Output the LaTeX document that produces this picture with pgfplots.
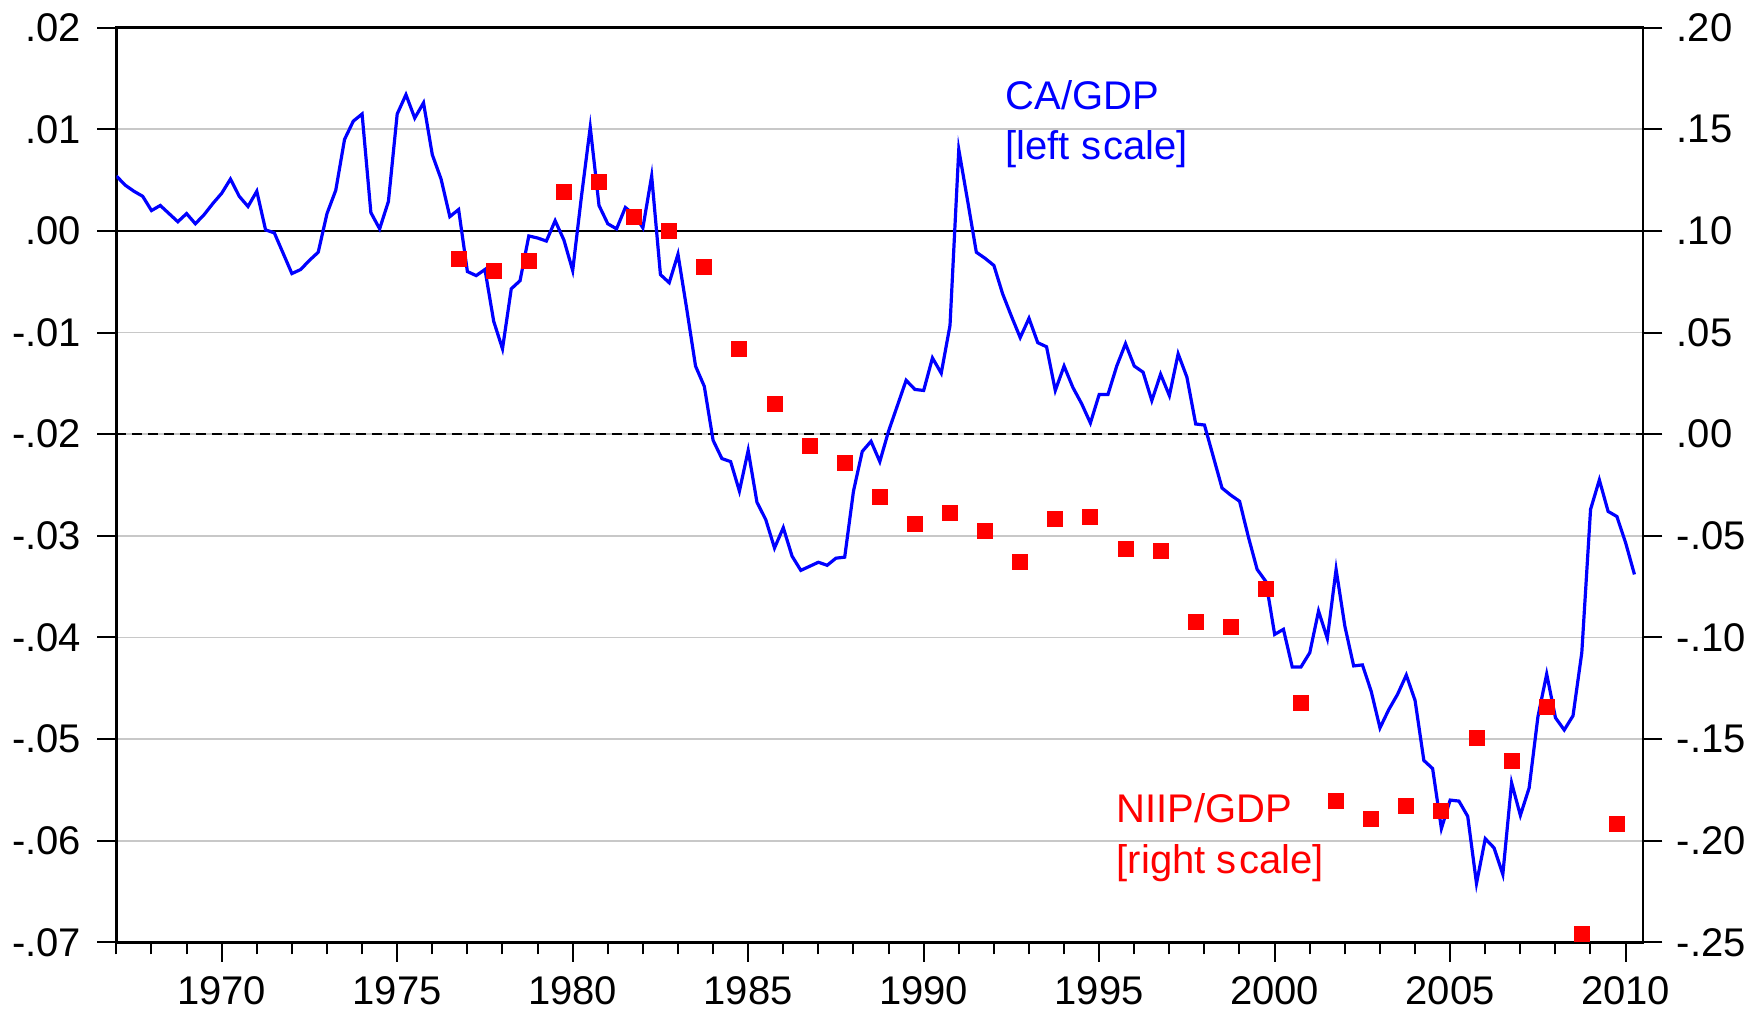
\documentclass[border=0pt]{standalone}
\usepackage{pgfplots}
\pgfplotsset{compat=1.18}
\usepackage{fontspec}
\setmainfont{Liberation Sans}
\definecolor{gridgray}{RGB}{200,200,200}
\begin{document}
\begin{tikzpicture}
\useasboundingbox (-29.1pt,-17.6pt) rectangle (411.9pt,235.6pt);
\pgfplotsset{
 base/.style={
  at={(0pt,0pt)}, anchor=south west,
  scale only axis, width=381.7pt, height=228.7pt,
  xmin=1967, xmax=2010.5,
  tick align=outside,
  major tick length=4.8pt, minor tick length=3pt,
  tick style={black, line width=0.5pt},
  every tick label/.append style={font=\fontsize{10}{12}\selectfont, inner sep=0pt},
 }
}
\begin{axis}[base,
  ymin=-0.07, ymax=0.02,
  ytick={-0.07,-0.06,-0.05,-0.04,-0.03,-0.02,-0.01,0,0.01,0.02},
  yticklabels={-.07,-.06,-.05,-.04,-.03,-.02,-.01,.00,.01,.02},
  xtick pos=lower, ytick pos=lower,
  xtick={1970,1975,1980,1985,1990,1995,2000,2005,2010},
  xticklabels={1970,1975,1980,1985,1990,1995,2000,2005,2010},
  minor xtick={1967,...,2010},
  ymajorgrids, grid style={gridgray, line width=0.4pt},
  axis line style={black, line width=0.6pt},
  yticklabel style={anchor=east, xshift=-3.85pt},
  xticklabel style={anchor=north, yshift=-3.5pt},
]
\draw[black, line width=0.5pt] (1967,0) -- (2010.5,0);
\draw[black, line width=0.5pt, dash pattern=on 2.5pt off 1.5pt] (1967,-0.02) -- (2010.5,-0.02);
\addplot[blue, line width=0.8pt, mark=none] table {
x y
1967.00 0.0054
1967.25 0.0045
1967.50 0.0039
1967.75 0.0034
1968.00 0.0020
1968.25 0.0025
1968.50 0.0017
1968.75 0.0009
1969.00 0.0017
1969.25 0.0007
1969.50 0.0016
1969.75 0.0027
1970.00 0.0037
1970.25 0.0051
1970.50 0.0034
1970.75 0.0024
1971.00 0.0039
1971.25 0.0001
1971.50 -0.0002
1971.75 -0.0022
1972.00 -0.0042
1972.25 -0.0038
1972.50 -0.0029
1972.75 -0.0021
1973.00 0.0017
1973.25 0.0040
1973.50 0.0090
1973.75 0.0108
1974.00 0.0115
1974.25 0.0018
1974.50 0.0002
1974.75 0.0029
1975.00 0.0115
1975.25 0.0134
1975.50 0.0111
1975.75 0.0126
1976.00 0.0075
1976.25 0.0051
1976.50 0.0014
1976.75 0.0021
1977.00 -0.0040
1977.25 -0.0044
1977.50 -0.0038
1977.75 -0.0089
1978.00 -0.0116
1978.25 -0.0057
1978.50 -0.0049
1978.75 -0.0005
1979.00 -0.0007
1979.25 -0.0010
1979.50 0.0010
1979.75 -0.0009
1980.00 -0.0039
1980.25 0.0034
1980.50 0.0102
1980.75 0.0025
1981.00 0.0007
1981.25 0.0002
1981.50 0.0023
1981.75 0.0016
1982.00 0.0003
1982.25 0.0054
1982.50 -0.0043
1982.75 -0.0051
1983.00 -0.0023
1983.25 -0.0077
1983.50 -0.0133
1983.75 -0.0153
1984.00 -0.0206
1984.25 -0.0224
1984.50 -0.0227
1984.75 -0.0256
1985.00 -0.0216
1985.25 -0.0267
1985.50 -0.0284
1985.75 -0.0312
1986.00 -0.0292
1986.25 -0.0320
1986.50 -0.0334
1986.75 -0.0330
1987.00 -0.0326
1987.25 -0.0329
1987.50 -0.0322
1987.75 -0.0321
1988.00 -0.0256
1988.25 -0.0217
1988.50 -0.0207
1988.75 -0.0227
1989.00 -0.0197
1989.25 -0.0172
1989.50 -0.0147
1989.75 -0.0156
1990.00 -0.0157
1990.25 -0.0125
1990.50 -0.0140
1990.75 -0.0093
1991.00 0.0080
1991.25 0.0030
1991.50 -0.0021
1991.75 -0.0027
1992.00 -0.0034
1992.25 -0.0062
1992.50 -0.0084
1992.75 -0.0105
1993.00 -0.0086
1993.25 -0.0110
1993.50 -0.0114
1993.75 -0.0157
1994.00 -0.0133
1994.25 -0.0154
1994.50 -0.0170
1994.75 -0.0189
1995.00 -0.0161
1995.25 -0.0161
1995.50 -0.0133
1995.75 -0.0111
1996.00 -0.0133
1996.25 -0.0139
1996.50 -0.0167
1996.75 -0.0141
1997.00 -0.0162
1997.25 -0.0121
1997.50 -0.0144
1997.75 -0.0190
1998.00 -0.0191
1998.25 -0.0222
1998.50 -0.0253
1998.75 -0.0260
1999.00 -0.0266
1999.25 -0.0301
1999.50 -0.0333
1999.75 -0.0345
2000.00 -0.0397
2000.25 -0.0392
2000.50 -0.0429
2000.75 -0.0429
2001.00 -0.0415
2001.25 -0.0374
2001.50 -0.0401
2001.75 -0.0333
2002.00 -0.0389
2002.25 -0.0428
2002.50 -0.0427
2002.75 -0.0453
2003.00 -0.0489
2003.25 -0.0471
2003.50 -0.0456
2003.75 -0.0437
2004.00 -0.0462
2004.25 -0.0521
2004.50 -0.0529
2004.75 -0.0588
2005.00 -0.0560
2005.25 -0.0561
2005.50 -0.0576
2005.75 -0.0642
2006.00 -0.0598
2006.25 -0.0607
2006.50 -0.0633
2006.75 -0.0543
2007.00 -0.0575
2007.25 -0.0548
2007.50 -0.0478
2007.75 -0.0436
2008.00 -0.0479
2008.25 -0.0491
2008.50 -0.0477
2008.75 -0.0415
2009.00 -0.0274
2009.25 -0.0245
2009.50 -0.0276
2009.75 -0.0281
2010.00 -0.0307
2010.25 -0.0338
};
\node[blue, anchor=base west, inner sep=0pt, font=\fontsize{10}{12}\selectfont] at (1992.31,0.0119) {CA/GDP};
\node[blue, anchor=base west, inner sep=0pt, font=\fontsize{10}{12}\selectfont] at (1992.31,0.00706) {[left s\kern0.6pt cale]};
\node[red, anchor=base west, inner sep=0pt, font=\fontsize{10}{12}\selectfont] at (1995.48,-0.0582) {NIIP/GDP};
\node[red, anchor=base west, inner sep=0pt, font=\fontsize{10}{12}\selectfont] at (1995.48,-0.0632) {[right s\kern0.6pt cale]};
\end{axis}
\begin{axis}[base,
  ymin=-0.25, ymax=0.20,
  axis y line*=right, axis x line=none,
  axis line style={black, line width=0.6pt},
  ytick={-0.25,-0.20,-0.15,-0.10,-0.05,0,0.05,0.10,0.15,0.20},
  yticklabels={-.25,-.20,-.15,-.10,-.05,.00,.05,.10,.15,.20},
  yticklabel style={anchor=west, xshift=3.4pt},
  clip=false,
]
\addplot[color=red, only marks, mark=square*, mark size=1.875pt, mark options={fill=red, draw=red, line width=0pt}] table {
x y
1976.75 0.0863
1977.75 0.0805
1978.75 0.0850
1979.75 0.1190
1980.75 0.1240
1981.75 0.1070
1982.75 0.1000
1983.75 0.0820
1984.75 0.0420
1985.75 0.0150
1986.75 -0.0060
1987.75 -0.0140
1988.75 -0.0310
1989.75 -0.0440
1990.75 -0.0390
1991.75 -0.0475
1992.75 -0.0630
1993.75 -0.0415
1994.75 -0.0407
1995.75 -0.0566
1996.75 -0.0574
1997.75 -0.0925
1998.75 -0.0950
1999.75 -0.0760
2000.75 -0.1320
2001.75 -0.1805
2002.75 -0.1895
2003.75 -0.1830
2004.75 -0.1855
2005.75 -0.1495
2006.75 -0.1607
2007.75 -0.1340
2008.75 -0.2460
2009.75 -0.1916
};
\end{axis}
\end{tikzpicture}
\end{document}
